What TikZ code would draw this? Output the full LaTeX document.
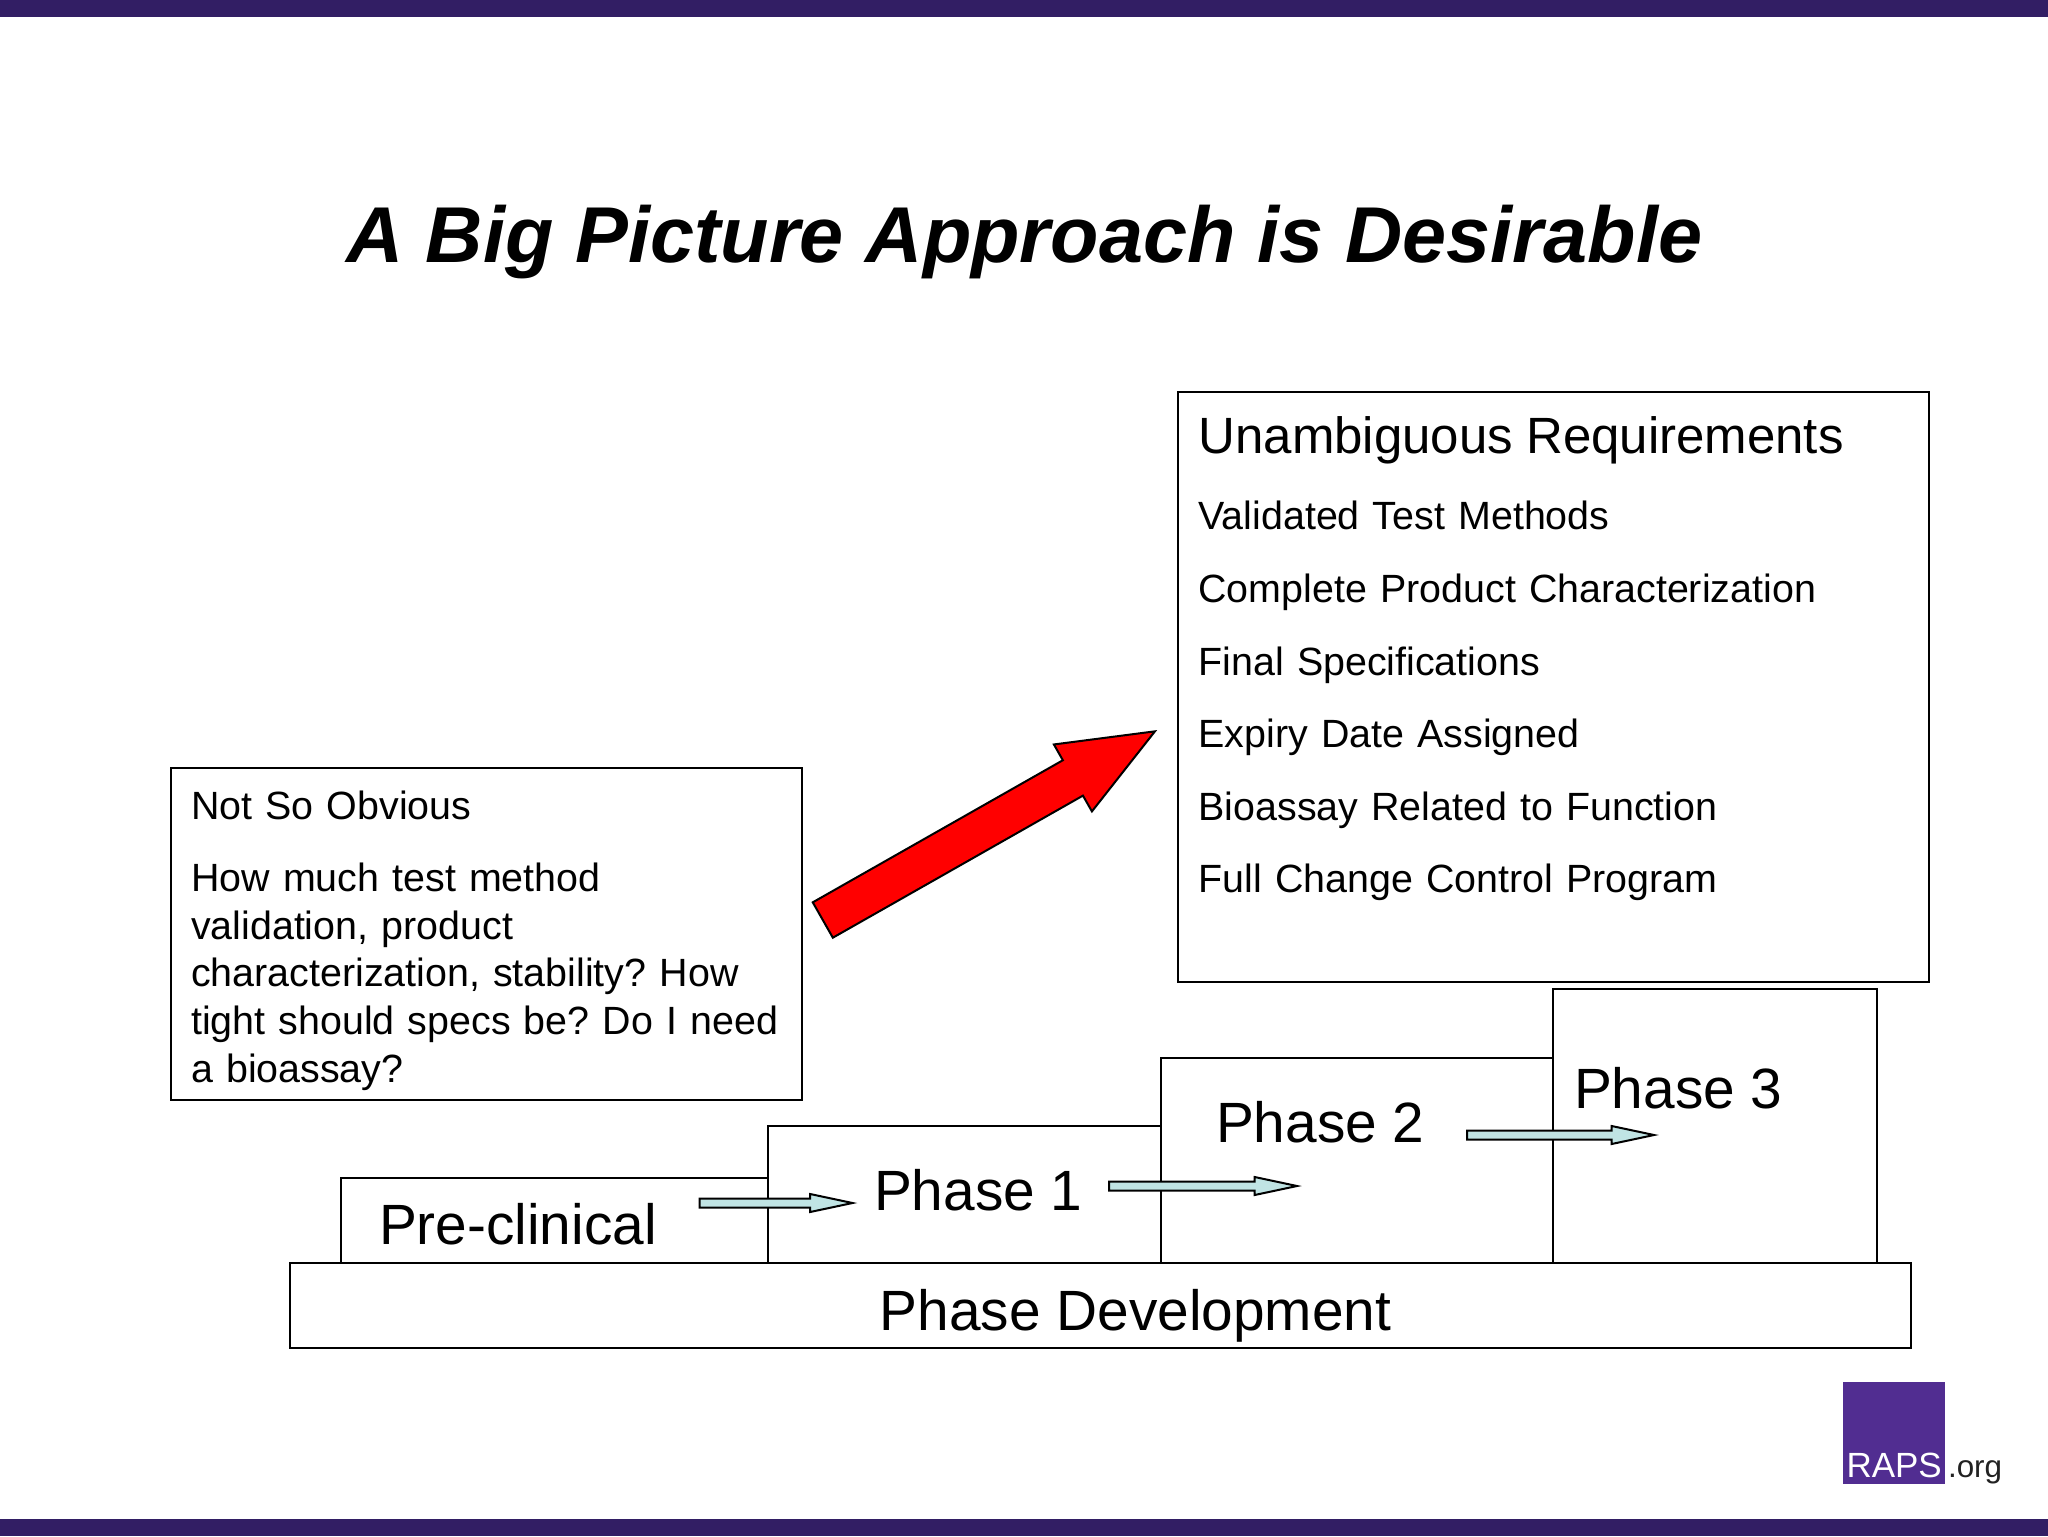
\documentclass[tikz,border=0pt]{standalone}
\usepackage{fontspec}
\setmainfont{Liberation Sans}
\usepackage{tikz}
\usetikzlibrary{arrows.meta,positioning,shapes.arrows}
\definecolor{RapsBar}{HTML}{321E64}
\definecolor{RapsPurple}{HTML}{512D91}
\definecolor{StepCyan}{HTML}{C0E4E4}
\definecolor{OrgGrey}{HTML}{222222}
\frenchspacing

\begin{document}
\begin{tikzpicture}[x=0.5pt, y=-0.5pt, every node/.style={inner sep=0pt, outer sep=0pt}]
\tikzstyle{stage}=[draw=black, line width=1pt, anchor=north west]
\tikzstyle{textbox}=[stage, align=left, inner xsep=10.3pt, font=\fontsize{19.7}{23.8}\selectfont]
\tikzstyle{phasetext}=[anchor=base west, font=\fontsize{28.4}{34}\selectfont]
\tikzstyle{stepflow}=[single arrow, draw=black, line width=1pt, fill=StepCyan, anchor=tail, inner ysep=1.75pt, minimum width=8pt, single arrow head extend=2.25pt, single arrow tip angle=24]
\useasboundingbox (0,0) rectangle (2048,1536);
\fill[RapsBar] (0,0) rectangle (2048,17);
\fill[RapsBar] (0,1519) rectangle (2048,1536);
\node[anchor=base, font=\fontsize{39.6}{48}\selectfont\bfseries\itshape] (title) at (1024.5,262) {A Big Picture Approach is Desirable};
% boxes
\node[textbox, text width=354.75pt, inner xsep=10.5pt, text height=30.7pt, text depth=264.3pt] (unambig) at (1177.5,392) {{\fontsize{25.5}{30}\selectfont Unambiguous Requirements}\\[14.4pt]
Validated Test Methods\\[12.5pt]
Complete Product Characterization\\[12.5pt]
Final Specifications\\[12.5pt]
Expiry Date Assigned\\[12.5pt]
Bioassay Related to Function\\[12.5pt]
Full Change Control Program};
\node[textbox, text width=295.15pt, text height=25.5pt, text depth=140.5pt] (obvious) at (170.5,768) {Not So Obvious\\[12.5pt]
How much test method\\
validation, product\\
characterization, stability? How\\
tight should specs be? Do I need\\
a bioassay?};
\node[stage, minimum width=213.5pt, minimum height=42.5pt] (preclin) at (341,1178) {};
\node[stage, minimum width=196.3pt, minimum height=68.5pt] (phaseone) at (768,1126) {};
\node[stage, minimum width=196.2pt, minimum height=102.5pt] (phasetwo) at (1160.6,1058) {};
\node[stage, minimum width=162pt, minimum height=137pt] (phasethree) at (1553,989) {};
\node[stage, minimum width=810.5pt, minimum height=42.5pt] (phasedev) at (290,1263) {};
% labels
\node[phasetext] (preclintext) at (379,1244.5) {Pre-clinical};
\node[phasetext] (phaseonetext) at (874,1210.5) {Phase 1};
\node[phasetext] (phasetwotext) at (1216,1142.5) {Phase 2};
\node[phasetext] (phasethreetext) at (1574,1108) {Phase 3};
\node[anchor=base, font=\fontsize{28.4}{34}\selectfont] (phasedevtext) at (1135.5,1330) {Phase Development};
% arrows
\node[stepflow, minimum height=76.5pt] (stepone) at (699.5,1203) {};
\node[stepflow, minimum height=94pt] (steptwo) at (1109,1186) {};
\node[stepflow, minimum height=93.5pt] (stepthree) at (1467,1135) {};
\node[single arrow, draw=black, line width=1pt, fill=red, anchor=tail, rotate=29.6, inner ysep=9.67pt, minimum width=37.5pt, minimum height=191pt, single arrow head extend=9.08pt, single arrow tip angle=44.4] (bigarrow) at (822.8,920) {};
% logo
\node[anchor=north west, fill=RapsPurple, minimum width=50.85pt, minimum height=50.85pt] (logo) at (1843.3,1382.3) {};
\node[anchor=base west, text=white, font=\fontsize{17.5}{20}\selectfont] (logotext) at (1846.5,1477) {RAPS};
\node[anchor=base west, text=OrgGrey, font=\fontsize{15.7}{18}\selectfont] (orgtext) at (1948,1477) {.org};
\end{tikzpicture}
\end{document}
